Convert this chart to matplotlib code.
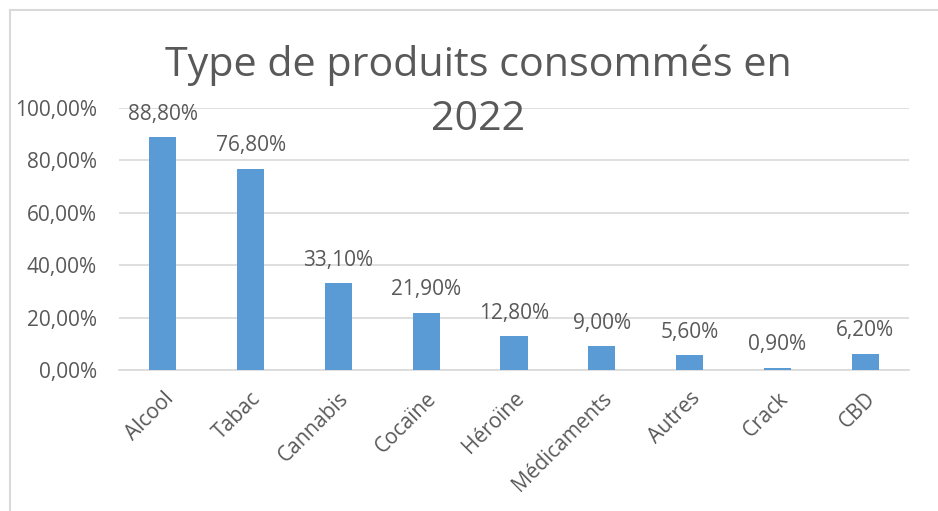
import matplotlib.pyplot as plt
from matplotlib.lines import Line2D

categories = ['Alcool', 'Tabac', 'Cannabis', 'Cocaïne', 'Héroïne',
              'Médicaments', 'Autres', 'Crack', 'CBD']
values = [88.8, 76.8, 33.1, 21.9, 12.8, 9.0, 5.6, 0.9, 6.2]
yticks = [0, 20, 40, 60, 80, 100]

grey = '#595959'
plt.rcParams['font.family'] = ['Open Sans', 'DejaVu Sans']

fig = plt.figure(figsize=(9.38, 5.11), dpi=100)
ax = fig.add_axes([119/938, 1-370/511, 790/938, 262/511])

x = range(len(categories))
ax.bar(x, values, width=0.31, color='#5B9BD5', zorder=3)
ax.set_xlim(-0.5, len(categories)-0.5)
ax.set_ylim(0, 100)
ax.set_yticks(yticks)
ax.set_yticklabels([f"{t:.2f}".replace('.', ',') + '%' for t in yticks],
                   color=grey, fontsize=15)
ax.set_xticks(list(x))
ax.set_xticklabels(categories, rotation=45, ha='right', va='top',
                   rotation_mode='anchor', color=grey, fontsize=15)
ax.tick_params(axis='x', length=0, pad=13)
ax.tick_params(axis='y', length=0, pad=16)
ax.grid(axis='y', color='#D9D9D9', linewidth=1.2, zorder=0)
for s in ['top', 'right', 'left']:
    ax.spines[s].set_visible(False)
ax.spines['bottom'].set_color('#D9D9D9')
ax.spines['bottom'].set_linewidth(1.2)

for i, v in enumerate(values):
    ax.annotate(f"{v:.2f}".replace('.', ',') + '%', (i, v),
                xytext=(0, 9), textcoords='offset points',
                ha='center', va='bottom', color=grey, fontsize=15)

fig.text(478/938, 1-65/511, 'Type de produits consommés en',
         ha='center', va='center', color=grey, fontsize=29.7)
fig.text(478/938, 1-120/511, '2022',
         ha='center', va='center', color=grey, fontsize=29.7)

# chart border (only left and top visible in the crop)
fig.add_artist(Line2D([9.5/938, 9.5/938], [0, 1-10.5/511], color='#D9D9D9',
                      linewidth=1.5, transform=fig.transFigure))
fig.add_artist(Line2D([9.5/938, 1], [1-10.5/511, 1-10.5/511], color='#D9D9D9',
                      linewidth=1.5, transform=fig.transFigure))

fig.savefig('out.png', dpi=100)
